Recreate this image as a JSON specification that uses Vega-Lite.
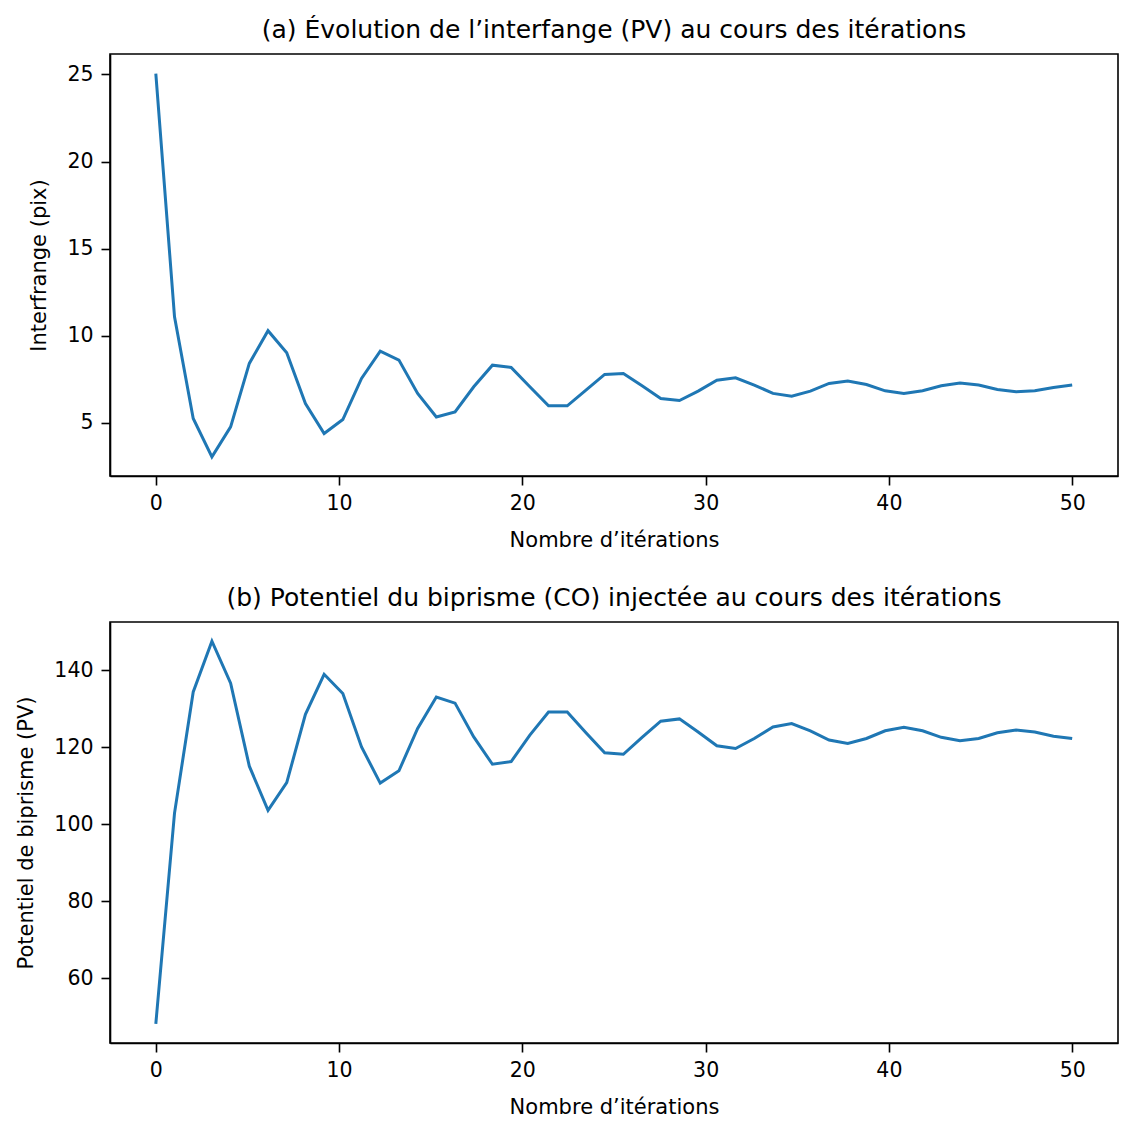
{
  "$schema": "https://vega.github.io/schema/vega-lite/v6.json",
  "background": "white",
  "padding": {"left": 15, "top": 17, "right": 4, "bottom": 4},
  "spacing": 33,
  "datasets": {
    "interfrange": [
      {"x": 0, "y": 25.05}, {"x": 1.0204, "y": 11.09}, {"x": 2.0408, "y": 5.25}, {"x": 3.0612, "y": 3.05},
      {"x": 4.0816, "y": 4.77}, {"x": 5.102, "y": 8.41}, {"x": 6.1224, "y": 10.29}, {"x": 7.1429, "y": 9.02},
      {"x": 8.1633, "y": 6.11}, {"x": 9.1837, "y": 4.39}, {"x": 10.2041, "y": 5.19}, {"x": 11.2245, "y": 7.55},
      {"x": 12.2449, "y": 9.12}, {"x": 13.2653, "y": 8.6}, {"x": 14.2857, "y": 6.69}, {"x": 15.3061, "y": 5.34},
      {"x": 16.3265, "y": 5.63}, {"x": 17.3469, "y": 7.07}, {"x": 18.3673, "y": 8.31}, {"x": 19.3878, "y": 8.18},
      {"x": 20.4082, "y": 7.07}, {"x": 21.4286, "y": 5.98}, {"x": 22.449, "y": 5.98}, {"x": 23.4694, "y": 6.88},
      {"x": 24.4898, "y": 7.78}, {"x": 25.5102, "y": 7.83}, {"x": 26.5306, "y": 7.13}, {"x": 27.551, "y": 6.4},
      {"x": 28.5714, "y": 6.28}, {"x": 29.5918, "y": 6.82}, {"x": 30.6122, "y": 7.45}, {"x": 31.6327, "y": 7.59},
      {"x": 32.6531, "y": 7.17}, {"x": 33.6735, "y": 6.69}, {"x": 34.6939, "y": 6.53}, {"x": 35.7143, "y": 6.82},
      {"x": 36.7347, "y": 7.26}, {"x": 37.7551, "y": 7.4}, {"x": 38.7755, "y": 7.2}, {"x": 39.7959, "y": 6.84},
      {"x": 40.8163, "y": 6.69}, {"x": 41.8367, "y": 6.84}, {"x": 42.8571, "y": 7.13}, {"x": 43.8776, "y": 7.28},
      {"x": 44.898, "y": 7.17}, {"x": 45.9184, "y": 6.92}, {"x": 46.9388, "y": 6.78}, {"x": 47.9592, "y": 6.84},
      {"x": 48.9796, "y": 7.03}, {"x": 50, "y": 7.17}
    ],
    "potentiel": [
      {"x": 0, "y": 48.1}, {"x": 1.0204, "y": 102.9}, {"x": 2.0408, "y": 134.4}, {"x": 3.0612, "y": 147.6},
      {"x": 4.0816, "y": 136.7}, {"x": 5.102, "y": 115.1}, {"x": 6.1224, "y": 103.6}, {"x": 7.1429, "y": 110.8},
      {"x": 8.1633, "y": 128.6}, {"x": 9.1837, "y": 139.0}, {"x": 10.2041, "y": 134.0}, {"x": 11.2245, "y": 120.1},
      {"x": 12.2449, "y": 110.7}, {"x": 13.2653, "y": 113.9}, {"x": 14.2857, "y": 124.9}, {"x": 15.3061, "y": 133.1},
      {"x": 16.3265, "y": 131.5}, {"x": 17.3469, "y": 122.7}, {"x": 18.3673, "y": 115.6}, {"x": 19.3878, "y": 116.3},
      {"x": 20.4082, "y": 123.2}, {"x": 21.4286, "y": 129.2}, {"x": 22.449, "y": 129.2}, {"x": 23.4694, "y": 123.8},
      {"x": 24.4898, "y": 118.6}, {"x": 25.5102, "y": 118.2}, {"x": 26.5306, "y": 122.6}, {"x": 27.551, "y": 126.8},
      {"x": 28.5714, "y": 127.4}, {"x": 29.5918, "y": 124.0}, {"x": 30.6122, "y": 120.4}, {"x": 31.6327, "y": 119.7},
      {"x": 32.6531, "y": 122.3}, {"x": 33.6735, "y": 125.3}, {"x": 34.6939, "y": 126.2}, {"x": 35.7143, "y": 124.3},
      {"x": 36.7347, "y": 121.9}, {"x": 37.7551, "y": 121.0}, {"x": 38.7755, "y": 122.3}, {"x": 39.7959, "y": 124.3},
      {"x": 40.8163, "y": 125.2}, {"x": 41.8367, "y": 124.3}, {"x": 42.8571, "y": 122.6}, {"x": 43.8776, "y": 121.7},
      {"x": 44.898, "y": 122.3}, {"x": 45.9184, "y": 123.8}, {"x": 46.9388, "y": 124.5}, {"x": 47.9592, "y": 124.0},
      {"x": 48.9796, "y": 122.9}, {"x": 50, "y": 122.3}
    ]
  },
  "config": {
    "font": "DejaVu Sans",
    "view": {"stroke": "black", "strokeWidth": 1.6},
    "axis": {
      "grid": false,
      "domainColor": "black",
      "domainWidth": 1.6,
      "tickColor": "black",
      "tickWidth": 1.6,
      "tickSize": 9,
      "labelFont": "DejaVu Sans",
      "labelFontSize": 20.5,
      "labelColor": "black",
      "labelPadding": 8,
      "titleFont": "DejaVu Sans",
      "titleFontSize": 21,
      "titleFontWeight": "normal",
      "titleColor": "black"
    },
    "title": {"font": "DejaVu Sans", "fontSize": 25, "fontWeight": "normal", "color": "black", "offset": 11}
  },
  "vconcat": [
    {
      "title": "(a) Évolution de l’interfange (PV) au cours des itérations",
      "width": 1008,
      "height": 422,
      "data": {"name": "interfrange"},
      "mark": {"type": "line", "color": "#1f77b4", "strokeWidth": 3},
      "encoding": {
        "x": {"field": "x", "type": "quantitative", "title": "Nombre d’itérations",
              "scale": {"domain": [-2.5, 52.5], "nice": false, "zero": false},
              "axis": {"values": [0, 10, 20, 30, 40, 50], "titlePadding": 16}},
        "y": {"field": "y", "type": "quantitative", "title": "Interfrange (pix)",
              "scale": {"domain": [1.95, 26.17], "nice": false, "zero": false},
              "axis": {"values": [5, 10, 15, 20, 25], "titlePadding": 17}}
      }
    },
    {
      "title": "(b) Potentiel du biprisme (CO) injectée au cours des itérations",
      "width": 1008,
      "height": 421,
      "data": {"name": "potentiel"},
      "mark": {"type": "line", "color": "#1f77b4", "strokeWidth": 3},
      "encoding": {
        "x": {"field": "x", "type": "quantitative", "title": "Nombre d’itérations",
              "scale": {"domain": [-2.5, 52.5], "nice": false, "zero": false},
              "axis": {"values": [0, 10, 20, 30, 40, 50], "titlePadding": 16}},
        "y": {"field": "y", "type": "quantitative", "title": "Potentiel de biprisme (PV)",
              "scale": {"domain": [43.1, 152.6], "nice": false, "zero": false},
              "axis": {"values": [60, 80, 100, 120, 140], "titlePadding": 17}}
      }
    }
  ]
}
